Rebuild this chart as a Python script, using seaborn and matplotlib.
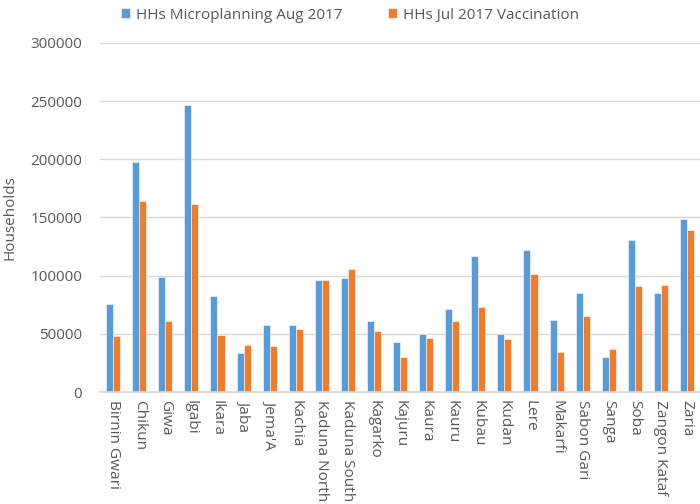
import numpy as np
import pandas as pd
import matplotlib
matplotlib.use("Agg")
import matplotlib.pyplot as plt
import seaborn as sns

lgas = ["Birnin Gwari", "Chikun", "Giwa", "Igabi", "Ikara", "Jaba", "Jema'A",
        "Kachia", "Kaduna North", "Kaduna South", "Kagarko", "Kajuru", "Kaura",
        "Kauru", "Kubau", "Kudan", "Lere", "Makarfi", "Sabon Gari", "Sanga",
        "Soba", "Zangon Kataf", "Zaria"]
microplanning = [76000, 197700, 99100, 246400, 82800, 33800, 57900,
                 57900, 96000, 98000, 61300, 42700, 49600,
                 71300, 116900, 49600, 122300, 61900, 84800, 30400,
                 130600, 85400, 149000]
vaccination = [48100, 163900, 61000, 161900, 49000, 40700, 39800,
               54100, 96300, 105400, 52100, 30100, 46400,
               61000, 73100, 45600, 101100, 34100, 65600, 37200,
               91400, 92000, 139200]
series_names = ["HHs Microplanning Aug 2017", "HHs Jul 2017 Vaccination"]

df = pd.DataFrame({
    "LGA": lgas * 2,
    "Households": microplanning + vaccination,
    "Series": [series_names[0]] * len(lgas) + [series_names[1]] * len(lgas),
})

sns.set_theme(style="white")
plt.rcParams["font.family"] = ["Open Sans", "DejaVu Sans"]

fig = plt.figure(figsize=(7, 5.04), dpi=100)
ax = fig.add_axes([0.143, 0.222, 0.857, 0.693])

sns.barplot(data=df, x="LGA", y="Households", hue="Series",
            palette=["#5B9BD5", "#ED7D31"], width=0.54, ax=ax,
            edgecolor="white", linewidth=0.4, saturation=1)

ax.set_ylim(0, 300000)
ax.set_xlim(-0.5, len(lgas) - 0.5)
ax.set_yticks(np.arange(0, 300001, 50000))
ax.yaxis.grid(True, color="#D9D9D9", linewidth=1)
ax.set_axisbelow(True)
for s in ["top", "right", "left"]:
    ax.spines[s].set_visible(False)
ax.spines["bottom"].set_color("#D9D9D9")
ax.tick_params(axis="both", length=0, labelsize=11, colors="#595959")
ax.tick_params(axis="y", pad=13)
ax.tick_params(axis="x", labelsize=11.1, pad=6)
ax.set_xlabel("")
ax.set_ylabel("Households", fontsize=11, color="#595959", labelpad=9)
plt.setp(ax.get_xticklabels(), rotation=270, va="top", ha="center")

handles, labels = ax.get_legend_handles_labels()
ax.legend(handles, labels, loc="upper center", bbox_to_anchor=(0.5, 1.012),
          bbox_transform=fig.transFigure, ncol=2, frameon=False,
          fontsize=11, handlelength=0.6, handleheight=0.6,
          columnspacing=3, handletextpad=0.4, labelcolor="#595959")

fig.savefig("out.png", dpi=100)
